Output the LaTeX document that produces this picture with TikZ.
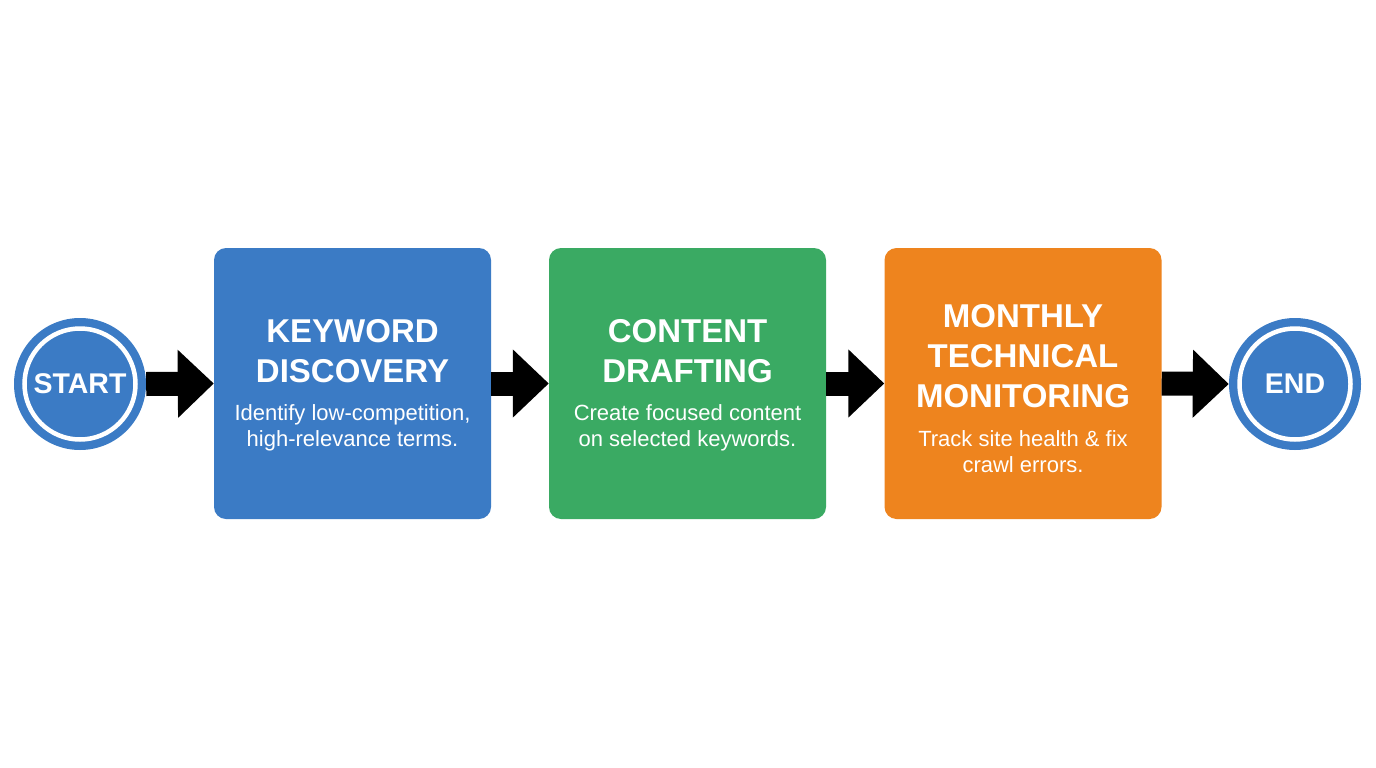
\documentclass[tikz,border=0pt]{standalone}
\usepackage{fontspec}
\setmainfont{Liberation Sans}
\usetikzlibrary{arrows.meta}
\definecolor{cblue}{HTML}{3B7BC5}
\definecolor{cgreen}{HTML}{3AAA63}
\definecolor{corange}{HTML}{EE841E}
\tikzset{
  stepbox/.style={rounded corners=12pt, minimum width=277pt, minimum height=271pt, inner sep=0pt, draw=none},
  ttl/.style={text=white, font=\fontsize{33}{40}\selectfont\bfseries, align=center, inner sep=0pt},
  bdy/.style={text=white, font=\fontsize{22}{26}\selectfont, align=center, inner sep=0pt},
  endpt/.style={circle, fill=cblue, minimum size=132pt, inner sep=0pt, text=white, font=\fontsize{28}{30}\selectfont\bfseries},
  flow/.style={line width=24pt, black, -{Triangle[length=36pt, width=66pt]}}
}
\begin{document}
\begin{tikzpicture}[x=1pt,y=-1pt]
\useasboundingbox (0,0) rectangle (1376,768);
\fill[white] (0,0) rectangle (1376,768);
% circles
\node[endpt] (start) at (80,384) {};
\draw[white, line width=4.5pt] (start.center) circle (55.5);
\node[text=white, font=\fontsize{28.5}{30}\selectfont\bfseries, inner sep=0pt] (starttxt) at (80,384) {START};
\node[endpt] (end) at (1295,384) {};
\draw[white, line width=4.5pt] (end.center) circle (55.5);
\node[text=white, font=\fontsize{28.5}{30}\selectfont\bfseries, inner sep=0pt] (endtxt) at (1295,384) {END};
% boxes
\node[stepbox, fill=cblue] (b1) at (352.5,383.5) {};
\node[stepbox, fill=cgreen] (b2) at (687.5,383.5) {};
\node[stepbox, fill=corange] (b3) at (1023,383.5) {};
% titles
\node[ttl] (t1) at (352.5,351) {KEYWORD\\DISCOVERY};
\node[bdy] (d1) at (352.5,428) {Identify low-competition,\\high-relevance terms.};
\node[ttl] (t2) at (687.5,351) {CONTENT\\DRAFTING};
\node[bdy] (d2) at (687.5,428) {Create focused content\\on selected keywords.};
\node[ttl] (t3) at (1023,356) {MONTHLY\\TECHNICAL\\MONITORING};
\node[bdy] (d3) at (1023,452) {Track site health \& fix\\crawl errors.};
% arrows
\draw[flow] (start.east) -- (b1.west);
\draw[flow] (b1.east) -- (b2.west);
\draw[flow] (b2.east) -- (b3.west);
\draw[flow] (b3.east) -- (end.west);
\end{tikzpicture}
\end{document}
